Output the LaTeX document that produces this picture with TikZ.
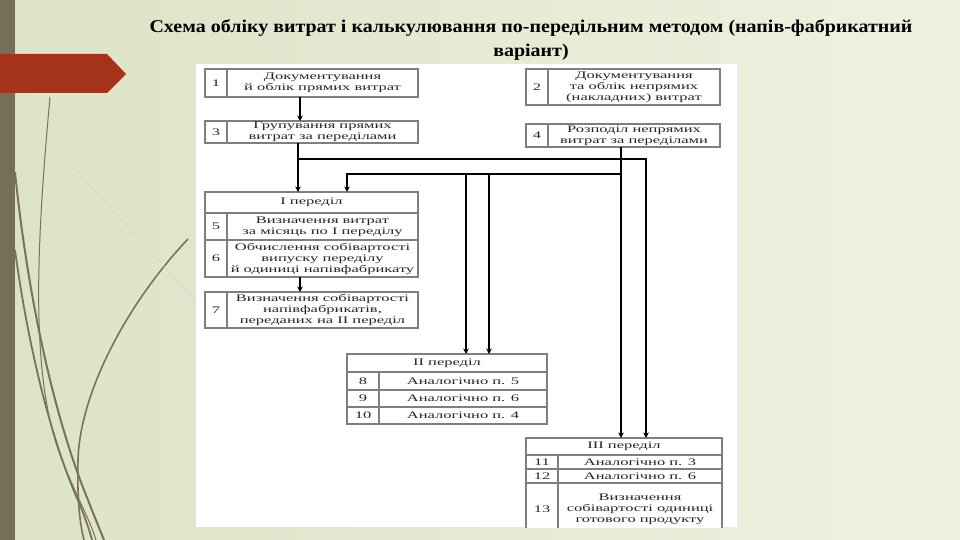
\documentclass[tikz,border=0pt]{standalone}
\usepackage{fontspec}
\setmainfont{Liberation Serif}
\newfontfamily\boxfont[FakeStretch=1.65]{Liberation Serif}
\newfontfamily\titlefont[FakeStretch=1.11]{Liberation Serif}
\usetikzlibrary{arrows.meta}
\definecolor{bgA}{HTML}{DCE3C6}
\definecolor{bgB}{HTML}{EEF2E1}
\definecolor{barcol}{HTML}{756F57}
\definecolor{redcol}{HTML}{A5321A}
\definecolor{grass}{HTML}{7A7358}
\definecolor{cellgray}{HTML}{7F7F7F}
\newcommand{\cellat}[6]{\node[cell,minimum width=#4pt,minimum height=#5pt] (#1) at (#2,#3) {#6};}
\begin{document}
\begin{tikzpicture}[x=1pt,y=-1pt,
  cell/.style={draw=cellgray, line width=1.8pt, fill=white, inner sep=0pt, outer sep=0pt, anchor=north west,
    font=\boxfont\fontsize{10}{11}\selectfont, align=center, text=black!85},
  conn/.style={line width=1.3pt, black},
  arr/.style={conn, -{Stealth[length=5.5pt,width=5.5pt]}},
  grassline/.style={draw=grass, line width=#1},
  grassline/.default=1.5pt]
\useasboundingbox (0,0) rectangle (960,540);
% background
\shade[left color=bgA, right color=bgB] (0,0) rectangle (960,540);
% grass curves
\draw[grassline=1pt] (50,97) .. controls (36,250) and (30,380) .. (62,460) .. controls (78,500) and (90,520) .. (96,540);
\draw[grassline=2pt] (15,172) .. controls (28,300) and (55,420) .. (88,500) .. controls (95,518) and (100,530) .. (104,540);
\draw[grassline=1.8pt] (15,250) .. controls (30,360) and (55,450) .. (80,505) .. controls (86,520) and (90,532) .. (92,540);
\draw[grassline=1.6pt] (188,239) .. controls (130,300) and (80,390) .. (78,460) .. controls (77,500) and (80,525) .. (84,540);
\draw[grassline=0.6pt, grass!30] (60,150) .. controls (100,200) and (160,260) .. (195,300);
% left bar
\fill[barcol] (0,0) rectangle (15,540);
% red arrow
\fill[redcol] (0,54) -- (107,54) -- (126,74) -- (107,93) -- (0,93) -- cycle;
% title
\node[font=\titlefont\bfseries\fontsize{18}{21}\selectfont] (title1) at (531,28) {Схема обліку витрат і калькулювання по-передільним методом (напів-фабрикатний};
\node[font=\titlefont\bfseries\fontsize{18}{21}\selectfont] (title2) at (531,52) {варіант)};
% white diagram area
\fill[white] (196,64) rectangle (737,527);
\begin{scope}
\clip (196,64) rectangle (737,527);
% box 1
\cellat{b1n}{205}{69}{22}{28}{1}
\cellat{b1t}{227}{69}{191}{28}{Документування\\й облік прямих витрат}
% box 2
\cellat{b2n}{526}{69}{22}{36}{2}
\cellat{b2t}{548}{69}{172}{36}{Документування\\та облік непрямих\\(накладних) витрат}
% box 3
\cellat{b3n}{205}{121}{22}{22}{3}
\cellat{b3t}{227}{121}{191}{22}{Групування прямих\\витрат за переділами}
% box 4
\cellat{b4n}{526}{124}{22}{23}{4}
\cellat{b4t}{548}{124}{172}{23}{Розподіл непрямих\\витрат за переділами}
% section I
\cellat{s1h}{205}{192}{213}{21}{I переділ}
\cellat{r5n}{205}{213}{22}{27}{5}
\cellat{r5t}{227}{213}{191}{27}{Визначення витрат\\за місяць по I переділу}
\cellat{r6n}{205}{240}{22}{37}{6}
\cellat{r6t}{227}{240}{191}{37}{Обчислення собівартості\\випуску переділу\\й одиниці напівфабрикату}
% box 7
\cellat{b7n}{205}{292}{22}{36}{7}
\cellat{b7t}{227}{292}{191}{36}{Визначення собівартості\\напівфабрикатів,\\переданих на II переділ}
% section II
\cellat{s2h}{347}{354}{200}{18}{II переділ}
\cellat{r8n}{347}{372}{32}{18}{8}
\cellat{r8t}{379}{372}{168}{18}{Аналогічно п. 5}
\cellat{r9n}{347}{390}{32}{17}{9}
\cellat{r9t}{379}{390}{168}{17}{Аналогічно п. 6}
\cellat{r10n}{347}{407}{32}{17}{10}
\cellat{r10t}{379}{407}{168}{17}{Аналогічно п. 4}
% section III
\cellat{s3h}{526}{438}{196}{17}{III переділ}
\cellat{r11n}{526}{455}{32}{14}{11}
\cellat{r11t}{558}{455}{164}{14}{Аналогічно п. 3}
\cellat{r12n}{526}{469}{32}{14}{12}
\cellat{r12t}{558}{469}{164}{14}{Аналогічно п. 6}
\cellat{r13n}{526}{483}{32}{52}{13}
\cellat{r13t}{558}{483}{164}{52}{Визначення\\собівартості одиниці\\готового продукту}
% connector coordinates
\coordinate (xa) at (300,0);
\coordinate (xb) at (298,0);
\coordinate (xc) at (347,0);
\coordinate (xd) at (466,0);
\coordinate (xe) at (489,0);
\coordinate (xf) at (621,0);
\coordinate (xg) at (646,0);
\coordinate (ja) at (298,159);
\coordinate (jb) at (646,159);
\coordinate (jc) at (621,174);
\coordinate (jd) at (347,174);
\coordinate (je) at (466,174);
\coordinate (jf) at (489,174);
% connectors
\draw[arr] (b1t.south -| xa) -- (b3t.north -| xa);
\draw[arr] (b3t.south -| xb) -- (s1h.north -| xb);
\draw[arr] (ja) -- (jb) -- (s3h.north -| xg);
\draw[arr] (b4t.south -| xf) -- (s3h.north -| xf);
\draw[arr] (jc) -- (jd) -- (s1h.north -| xc);
\draw[arr, line width=1.8pt] (je) -- (s2h.north -| xd);
\draw[arr, line width=1.8pt] (jf) -- (s2h.north -| xe);
\draw[arr] (r6t.south -| xa) -- (b7t.north -| xa);
\end{scope}
\end{tikzpicture}
\end{document}
